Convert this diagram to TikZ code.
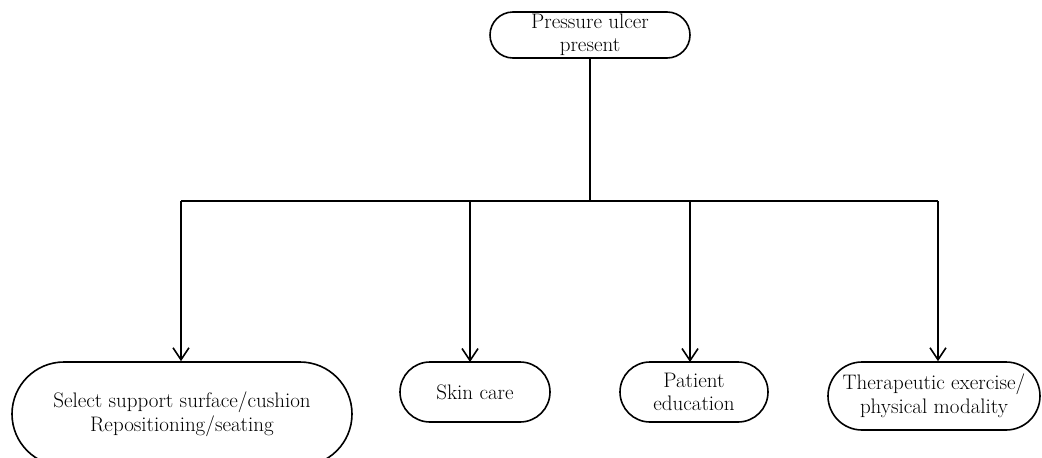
\documentclass[tikz,border=0pt]{standalone}
\usetikzlibrary{arrows.meta}
\begin{document}
\begin{tikzpicture}[x=1pt,y=-1pt,
  box/.style={draw,line width=1.6pt,rounded corners=#1,align=center,inner sep=0pt,font=\fontsize{21}{23.5}\selectfont},
  conn/.style={line width=1.6pt},
  arr/.style={conn,-{Straight Barb[length=12pt,width=16pt,line width=1.6pt]}}]
\useasboundingbox (0,0) rectangle (1042,458);
\node[box=23pt,minimum width=200pt,minimum height=46pt] (top) at (590,35) {Pressure ulcer\\present};
\node[box=52pt,minimum width=340pt,minimum height=104pt] (n1) at (182,414) {Select support surface/cushion\\Repositioning/seating};
\node[box=30pt,minimum width=150pt,minimum height=60pt] (n2) at (475,392) {Skin care};
\node[box=30pt,minimum width=148pt,minimum height=60pt] (n3) at (694,392) {Patient\\education};
\node[box=34pt,minimum width=212pt,minimum height=68pt] (n4) at (934,396) {Therapeutic exercise/\\physical modality};
\coordinate (j) at (590,201);
\coordinate (l) at (181,201);
\coordinate (r) at (938,201);
\draw[conn] (top.south) -- (j);
\draw[conn] (l) -- (r);
\draw[arr] (l) -- (l |- n1.north);
\draw[arr] (470,201) -- (470,362);
\draw[arr] (690,201) -- (690,362);
\draw[arr] (r) -- (r |- n4.north);
\end{tikzpicture}
\end{document}
